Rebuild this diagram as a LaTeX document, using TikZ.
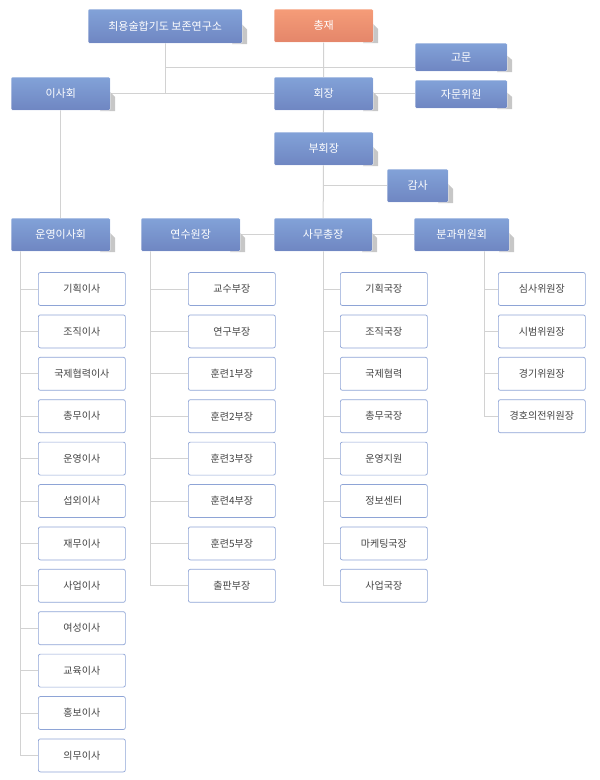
\documentclass[tikz,border=0pt]{standalone}
\usepackage{fontspec}
\setmainfont{Noto Sans CJK KR}
\usetikzlibrary{calc,backgrounds}
\definecolor{btop}{HTML}{82A2D8}
\definecolor{bbot}{HTML}{6F86C2}
\definecolor{otop}{HTML}{F59C78}
\definecolor{obot}{HTML}{E4866A}
\definecolor{ln}{HTML}{D2D2D2}
\definecolor{cb}{HTML}{8EA4D6}
\definecolor{tx}{HTML}{444444}
\newcommand{\hdrbox}[7]{%
  \fill[black!22] (#4,{#3+(#5-#3)*0.45}) -- (#4+5,{#3+(#5-#3)*0.6}) -- (#4+5,#5+1) -- (#4-10,#5+1) -- cycle;
  \node[hdr,#7,minimum width={(#4-#2)*1pt},minimum height={(#5-#3)*1pt}] (#1) at (#2,#3) {#6};}
\begin{document}
\begin{tikzpicture}[x=1pt,y=-1pt,
  hdr/.style={draw=white,line width=0.4pt,rounded corners=1pt,top color=btop,bottom color=bbot,text=white,font=\fontsize{11}{13}\selectfont,inner sep=0pt,anchor=north west},
  chl/.style={draw=cb,line width=0.7pt,rounded corners=2pt,fill=white,text=tx,font=\fontsize{10}{12}\selectfont,minimum width=87pt,minimum height=33pt,inner sep=0pt,anchor=west},
  con/.style={draw=ln,line width=1pt}]
\useasboundingbox (0,0) rectangle (600,780);
\hdrbox{ins}{88}{9}{242}{43}{최용술합기도 보존연구소}{}
\hdrbox{pres}{274}{9}{373}{42}{총재}{top color=otop,bottom color=obot}
\hdrbox{adv}{415}{43}{507}{71}{고문}{}
\hdrbox{board}{11}{77}{110}{110}{이사회}{}
\hdrbox{chair}{274}{77}{373}{110}{회장}{}
\hdrbox{cons}{415}{80}{507}{108}{자문위원}{}
\hdrbox{vice}{274}{132}{373}{165}{부회장}{}
\hdrbox{aud}{387}{169}{448}{202}{감사}{}
\hdrbox{op}{11}{218}{110}{251}{운영이사회}{}
\hdrbox{tr}{141}{218}{240}{251}{연수원장}{}
\hdrbox{sg}{274}{218}{372}{251}{사무총장}{}
\hdrbox{com}{414}{218}{509}{251}{분과위원회}{}
% children
\foreach \t [count=\i] in {기획이사,조직이사,국제협력이사,총무이사,운영이사,섭외이사,재무이사,사업이사,여성이사,교육이사,홍보이사,의무이사}
  {\node[chl] (a\i) at (38,{289+42.4*(\i-1)}) {\t};}
\foreach \t [count=\i] in {교수부장,연구부장,훈련1부장,훈련2부장,훈련3부장,훈련4부장,훈련5부장,출판부장}
  {\node[chl] (b\i) at (188,{289+42.4*(\i-1)}) {\t};}
\foreach \t [count=\i] in {기획국장,조직국장,국제협력,총무국장,운영지원,정보센터,마케팅국장,사업국장}
  {\node[chl] (c\i) at (340,{289+42.4*(\i-1)}) {\t};}
\foreach \t [count=\i] in {심사위원장,시범위원장,경기위원장,경호의전위원장}
  {\node[chl] (d\i) at (498,{289+42.4*(\i-1)}) {\t};}
% connectors
\begin{scope}[on background layer]
\coordinate (j2) at (ins.south |- board.east);
\coordinate (j1) at ($(ins.south)!0.47!(j2)$);
\coordinate (jg) at (pres.south |- aud.west);
\draw[con] (ins.south) -- (j2);
\draw[con] (j1) -- (j1 -| adv.west);
\draw[con] (board.east) -- (chair.west);
\draw[con] (pres.south) -- (sg.north);
\draw[con] (chair.east) -- (chair.east -| cons.west);
\draw[con] (jg) -- (aud.west);
\draw[con] (board.south) -- (op.north);
\draw[con] (tr.east) -- (sg.west);
\draw[con] (sg.east) -- (com.west);
\draw[con] (20,251) -- (20,0 |- a12.west);
\draw[con] (150,251) -- (150,0 |- b8.west);
\draw[con] (323,251) -- (323,0 |- c8.west);
\draw[con] (484,251) -- (484,0 |- d4.west);
\foreach \i in {1,...,12} \draw[con] (20,0 |- a\i.west) -- (a\i.west);
\foreach \i in {1,...,8} \draw[con] (150,0 |- b\i.west) -- (b\i.west);
\foreach \i in {1,...,8} \draw[con] (323,0 |- c\i.west) -- (c\i.west);
\foreach \i in {1,...,4} \draw[con] (484,0 |- d\i.west) -- (d\i.west);
\end{scope}
\end{tikzpicture}
\end{document}
